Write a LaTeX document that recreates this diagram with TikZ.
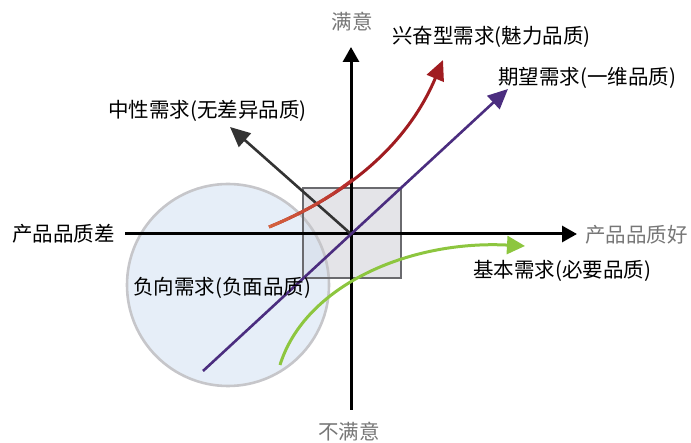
\documentclass[tikz,border=0pt]{standalone}
\usepackage{fontspec}
\setmainfont{Noto Sans CJK SC}
\usetikzlibrary{arrows.meta}
\definecolor{circfill}{HTML}{D5E3F3}
\definecolor{circline}{HTML}{C6C6CA}
\definecolor{sqfill}{HTML}{E4E4E8}
\definecolor{sqline}{HTML}{6A6A6E}
\definecolor{redA}{HTML}{D8663F}
\definecolor{redB}{HTML}{B3282A}
\definecolor{redC}{HTML}{A01C20}
\definecolor{purp}{HTML}{4B2D7F}
\definecolor{grn}{HTML}{8DC63F}
\definecolor{neut}{HTML}{333333}
\definecolor{gtxt}{HTML}{777777}
\begin{document}
\begin{tikzpicture}[x=1pt,y=-1pt,
  lbl/.style={inner sep=0pt,font=\fontsize{20.5}{22}\selectfont,text=black},
  glbl/.style={lbl,text=gtxt},
  axis/.style={line width=3pt,black,-{Triangle[length=15pt,width=16pt]}},
  curvetip/.style={-{Triangle[length=20pt,width=18pt]}}]
\useasboundingbox (0,0) rectangle (691,443);
% coordinates
\coordinate (O) at (351,234);
\coordinate (xl) at (125,234);
\coordinate (xr) at (577,234);
\coordinate (yt) at (351,47);
\coordinate (yb) at (351,410);
\coordinate (sqa) at (303,188);
\coordinate (sqb) at (401,278);
\coordinate (cc) at (228,285);
\coordinate (rs) at (269,227);
\coordinate (re) at (443,60);
\coordinate (ps) at (203,371);
\coordinate (pe) at (508,89);
\coordinate (ne) at (230,127);
\coordinate (gs) at (280,365);
\coordinate (ge) at (525,246);
% square and circle
\fill[sqfill] (sqa) rectangle (sqb);
\filldraw[fill=circfill,fill opacity=0.6,draw=circline,line width=2.6pt] (cc) circle (101);
\draw[sqline,line width=1.3pt] (sqa) rectangle (sqb);
% axes
\draw[axis] (xl) -- (xr);
\draw[axis] (yb) -- (yt);
% neutral
\draw[neut,line width=2.6pt,curvetip] (O) -- (ne);
% expected (purple)
\draw[purp,line width=2.6pt,curvetip] (ps) -- (pe);
% attractive (red) with gradient start
\draw[redC,line width=3pt,curvetip] (rs) .. controls (340,198) and (405,150) .. (re);
\foreach \i in {0,...,9}{
  \pgfmathsetmacro{\p}{100-\i*10}
  \pgfmathsetmacro{\xa}{262+\i*9}
  \pgfmathsetmacro{\xb}{271.5+\i*9}
  \begin{scope}
    \clip (\xa,150) rectangle (\xb,240);
    \draw[redA!\p!redB,line width=3pt] (rs) .. controls (340,198) and (405,150) .. (re);
  \end{scope}
}
% basic (green)
\draw[grn,line width=3pt,-{Triangle[length=18pt,width=18pt]}] (gs) .. controls (305,285) and (410,240) .. (ge);
% labels
\node[glbl] (sat) at (352,22) {满意};
\node[glbl] (unsat) at (349,432) {不满意};
\node[lbl,anchor=base west] (bad) at (12,241.5) {产品品质差};
\node[glbl,anchor=base west] (good) at (585,242.5) {产品品质好};
\node[lbl,anchor=base west] (attr) at (392,43.5) {兴奋型需求(魅力品质)};
\node[lbl,anchor=base west] (expt) at (498,84.5) {期望需求(一维品质)};
\node[lbl,anchor=base west] (indf) at (108,117.5) {中性需求(无差异品质)};
\node[lbl,anchor=base west] (must) at (473,277.5) {基本需求(必要品质)};
\node[lbl,anchor=base west] (rev) at (133,294.5) {负向需求(负面品质)};
\end{tikzpicture}
\end{document}
